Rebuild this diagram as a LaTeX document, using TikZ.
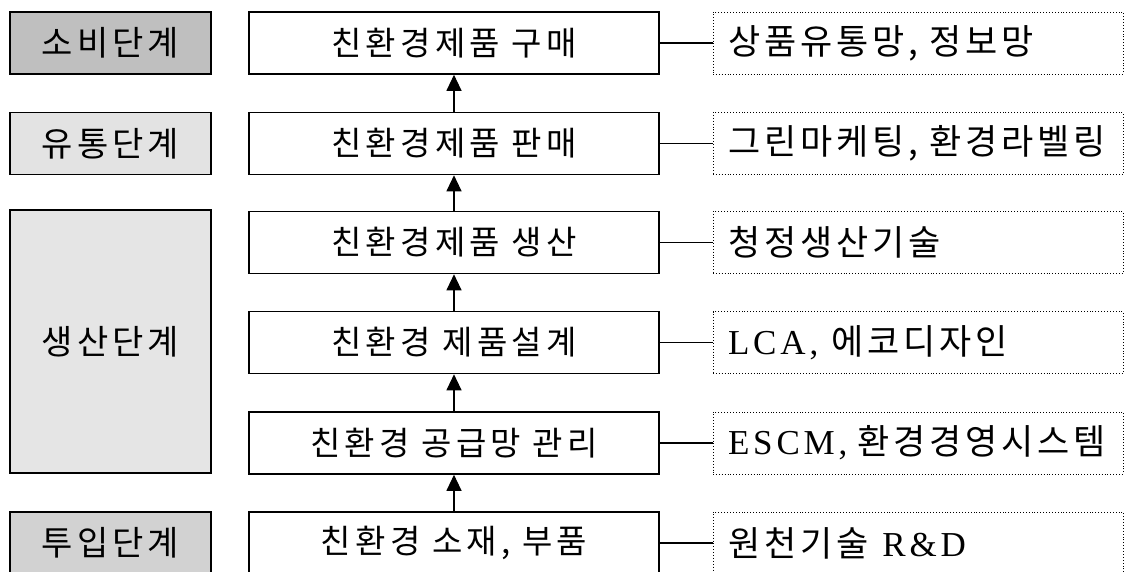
\documentclass[tikz,border=0pt]{standalone}
\usepackage{fontspec}
\setmainfont{Liberation Serif}[LetterSpace=11]
\newfontfamily\krmid[LetterSpace=13]{Noto Sans CJK KR}
\newfontfamily\krstage[LetterSpace=12]{Noto Sans CJK KR}
\newfontfamily\krtech[LetterSpace=11]{Noto Sans CJK KR}
\usetikzlibrary{arrows.meta}
\begin{document}
\begin{tikzpicture}[x=1pt,y=-1pt,
  stage/.style={draw, line width=1.2pt, minimum width=201pt, minimum height=62pt, inner sep=0pt, font=\krstage\fontsize{34}{36}\selectfont},
  proc/.style={draw, line width=1.6pt, minimum width=410pt, minimum height=62pt, inner sep=0pt, font=\krmid\fontsize{33}{35}\selectfont},
  tech/.style={draw, dotted, line width=0.9pt, minimum width=410pt, minimum height=62pt, inner xsep=15pt, inner ysep=0pt, font=\fontsize{35}{37}\selectfont},
  up/.style={-{Triangle[width=15pt,length=16pt]}, line width=1.1pt},
  link/.style={line width=1.3pt}
]
\useasboundingbox (0,0) rectangle (1125,572);
\clip (0,0) rectangle (1125,572);
\fill[white] (0,0) rectangle (1125,572);

% stage boxes
\node[stage, fill=gray!50] (s1) at (110.5,43) {소비단계};
\node[stage, fill=gray!22] (s2) at (110.5,143.5) {유통단계};
\node[stage, fill=gray!20, minimum height=263pt] (s3) at (110.5,341.5) {생산단계};
\node[stage, fill=gray!35] (s4) at (110.5,543) {투입단계};

% process boxes
\node[proc] (p1) at (454,43) {친환경제품 구매};
\node[proc] (p2) at (454,143.5) {친환경제품 판매};
\node[proc] (p3) at (454,242.5) {친환경제품 생산};
\node[proc] (p4) at (454,342.5) {친환경 제품설계};
\node[proc] (p5) at (454,443) {친환경 공급망 관리};
\node[proc] (p6) at (454,543) {친환경 소재, 부품};

% technology boxes
\node[tech] (t1) at (918,43) {\makebox[380pt][l]{\krtech 상품유통망, 정보망}};
\node[tech] (t2) at (918,143.5) {\makebox[380pt][l]{\krtech 그린마케팅, 환경라벨링}};
\node[tech] (t3) at (918,242.5) {\makebox[380pt][l]{\krtech 청정생산기술}};
\node[tech] (t4) at (918,342.5) {\makebox[380pt][l]{LCA,\hspace{13pt}{\krtech 에코디자인}}};
\node[tech] (t5) at (918,443) {\makebox[380pt][l]{ESCM,\hspace{10pt}{\krtech 환경경영시스템}}};
\node[tech] (t6) at (918,543) {\makebox[380pt][l]{{\krtech 원천기술}\hspace{14pt}R\&D}};

% arrows
\draw[up] (p6.north) -- (p5.south);
\draw[up] (p5.north) -- (p4.south);
\draw[up] (p4.north) -- (p3.south);
\draw[up] (p3.north) -- (p2.south);
\draw[up] (p2.north) -- (p1.south);

% links
\foreach \i in {1,...,6} \draw[link] (p\i.east) -- (t\i.west);
\end{tikzpicture}
\end{document}
